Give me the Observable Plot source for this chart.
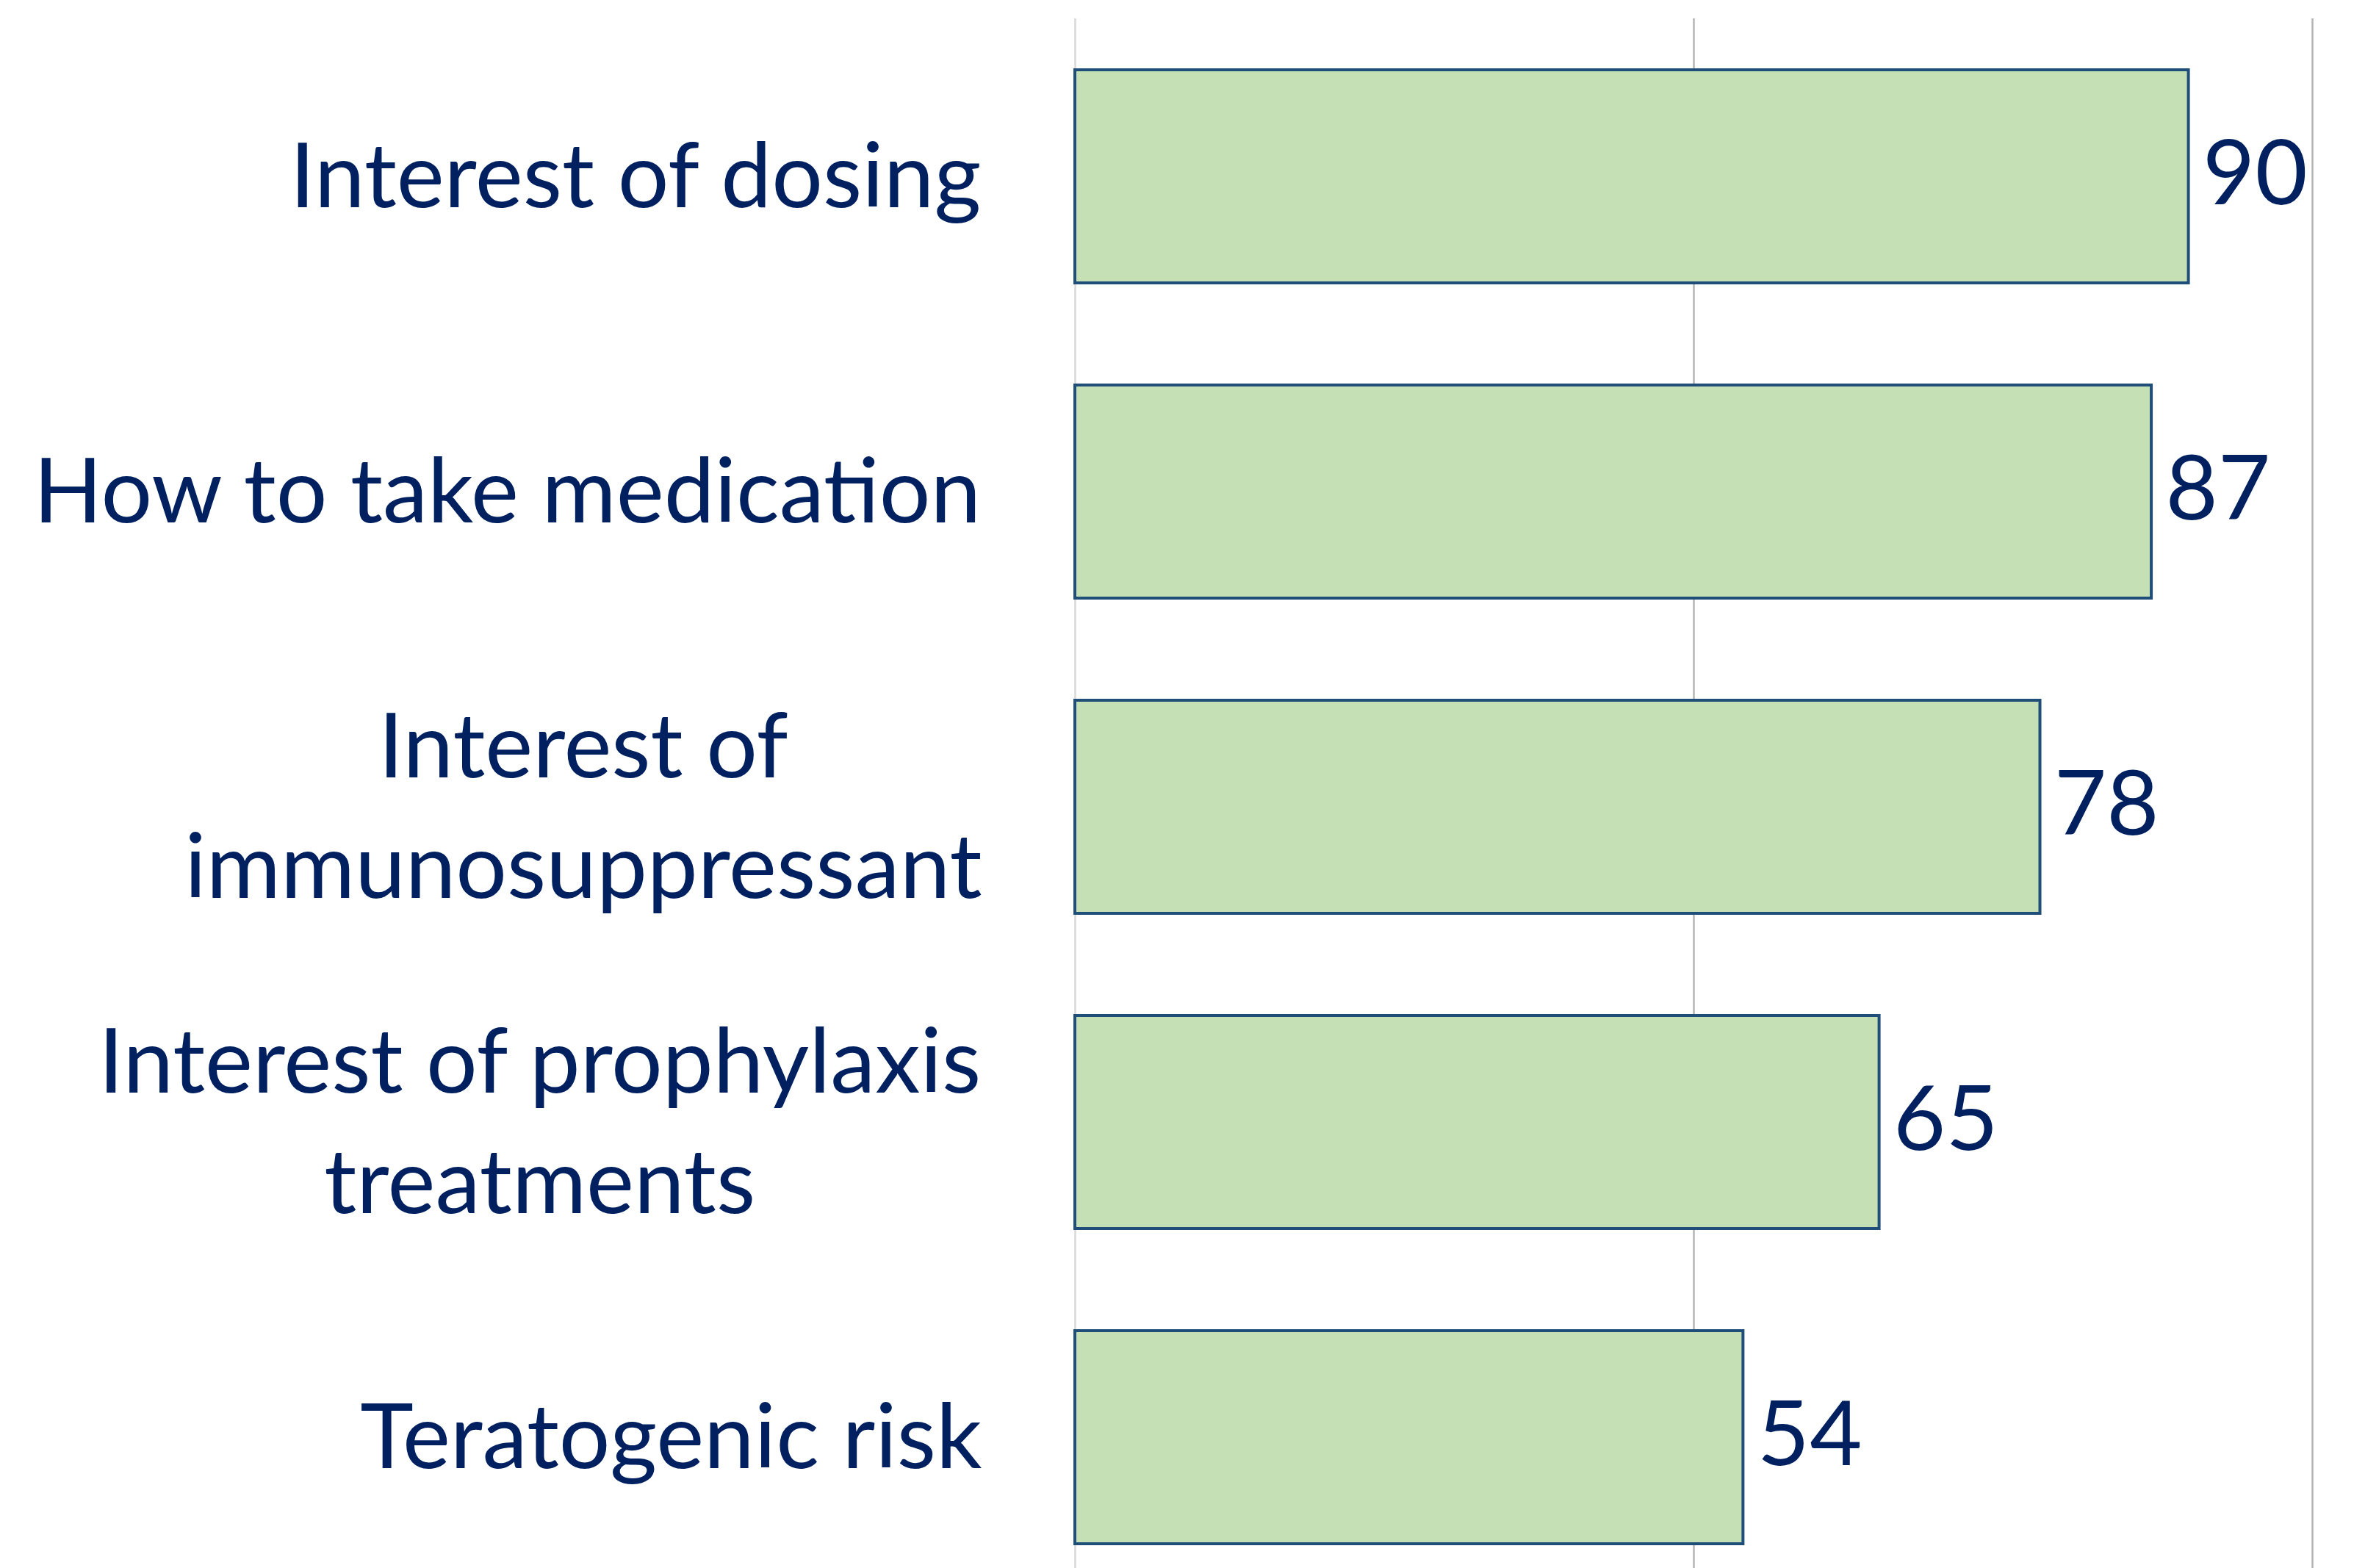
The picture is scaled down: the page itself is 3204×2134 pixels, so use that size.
<!DOCTYPE html>
<html>
<head>
<meta charset="utf-8">
<script src="https://cdn.jsdelivr.net/npm/d3@7"></script>
<script src="https://cdn.jsdelivr.net/npm/@observablehq/plot@0.6"></script>
<style>
  html, body { margin: 0; padding: 0; background: #ffffff; }
  #chart { width: 3204px; height: 2134px; overflow: hidden; }
</style>
</head>
<body>
<div id="chart"></div>
<script>
// ---- data ----
const categories = [
  "Interest of dosing",
  "How to take medication",
  "Interest of immunosuppressant",
  "Interest of prophylaxis treatments",
  "Teratogenic risk"
];
const labelLines = [
  ["Interest of dosing"],
  ["How to take medication"],
  ["Interest of", "immunosuppressant"],
  ["Interest of prophylaxis", "treatments"],
  ["Teratogenic risk"]
];
const values = [90, 87, 78, 65, 54];
const gridTicks = [0, 50, 100];

// ---- style ----
const FONT = "Lato";
const FS = 123;
const TXT = "#002060";
const data = categories.map((c, i) => ({ c, v: values[i], lines: labelLines[i] }));

const ctx = document.createElement("canvas").getContext("2d");
ctx.font = `${FS}px ${FONT}`;
const textW = s => ctx.measureText(s).width;

const labelGap = 127; // from zero line to right edge of category label block

const marks = [
  Plot.ruleX(gridTicks, {
    x: d => d,
    stroke: d => d === 0 ? "#d9d9d9" : "#b4b4b4",
    strokeWidth: 2.5
  }),
  Plot.barX(data, {
    x: "v", y: "c",
    fill: "#c5e0b4",
    stroke: "#1f4e79",
    strokeWidth: 4
  }),
  Plot.text(data, {
    x: "v", y: "c",
    text: d => String(d.v),
    textAnchor: "start",
    dx: 19,
    dy: -2,
    fill: TXT,
    fontSize: FS,
    fontFamily: FONT
  })
];

data.forEach(d => {
  const w = Math.max(...d.lines.map(textW));
  marks.push(Plot.text([d], {
    x: () => 0, y: "c",
    text: e => e.lines.join("\n"),
    textAnchor: "middle",
    lineHeight: 1.33,
    dx: -(labelGap + w / 2),
    dy: -11,
    fill: TXT,
    fontSize: FS,
    fontFamily: FONT
  }));
});

const chart = Plot.plot({
  width: 3204,
  height: 2134,
  marginLeft: 1463,
  marginRight: 57,
  marginTop: 25,
  marginBottom: 0,
  style: { background: "#ffffff", fontFamily: FONT, overflow: "visible" },
  x: { domain: [0, 100], axis: null },
  y: { domain: categories, range: [25.5, 2170.5], paddingInner: 0.324, paddingOuter: 0.162, axis: null },
  marks
});
document.getElementById("chart").appendChild(chart);
</script>
</body>
</html>
